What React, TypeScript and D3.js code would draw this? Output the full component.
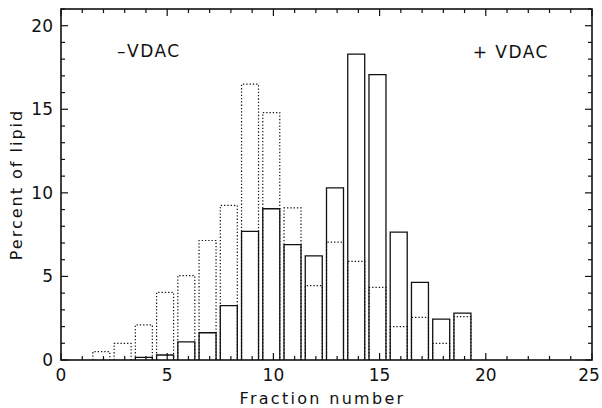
import React from "react";
import * as d3 from "d3";

const fractions = [2, 3, 4, 5, 6, 7, 8, 9, 10, 11, 12, 13, 14, 15, 16, 17, 18, 19];
const minusVDAC = [0.5, 1.0, 2.1, 4.05, 5.05, 7.15, 9.25, 16.5, 14.8, 9.1, 4.45, 7.05, 5.9, 4.35, 2.0, 2.55, 1.0, 2.6];
const plusVDAC = [0, 0, 0.16, 0.3, 1.08, 1.63, 3.25, 7.7, 9.05, 6.9, 6.23, 10.3, 18.3, 17.07, 7.65, 4.65, 2.44, 2.8];
const xTickLabels = [0, 5, 10, 15, 20, 25];
const yTickLabels = [0, 5, 10, 15, 20];

const W = 602, H = 408;
const left = 61, right = 592, top = 9, bottom = 360;
const font = "'DejaVu Sans', sans-serif";
const ink = "#111";

export default function App() {
  const x = d3.scaleLinear().domain([0, 25]).range([left, right]);
  const y = d3.scaleLinear().domain([0, 21]).range([bottom, top]);
  const bw = x(0.8) - x(0);
  const minorX = d3.range(0, 26);
  const minorY = d3.range(0, 22);

  return (
    <svg width={W} height={H} style={{ position: "absolute", left: 0, top: 0, background: "#fff" }}>
      <rect x={0} y={0} width={W} height={H} fill="#fff" />
      {fractions.map((f, i) =>
        minusVDAC[i] > 0 ? (
          <path
            key={"m" + f}
            d={`M${x(f - 0.5)},${y(0)}V${y(minusVDAC[i])}H${x(f - 0.5) + bw}V${y(0)}`}
            fill="none"
            stroke={ink}
            strokeWidth={1.2}
            strokeDasharray="1.3,2"
          />
        ) : null
      )}
      {fractions.map((f, i) =>
        plusVDAC[i] > 0 ? (
          <path
            key={"p" + f}
            d={`M${x(f - 0.5)},${y(0)}V${y(plusVDAC[i])}H${x(f - 0.5) + bw}V${y(0)}`}
            fill="none"
            stroke={ink}
            strokeWidth={1.3}
          />
        ) : null
      )}
      <rect x={left} y={top} width={right - left} height={bottom - top} fill="none" stroke={ink} strokeWidth={1.6} />
      {minorX.map((v) => {
        const len = v % 5 === 0 ? 7 : 4;
        return (
          <g key={"xt" + v}>
            <line x1={x(v)} x2={x(v)} y1={bottom} y2={bottom - len} stroke={ink} strokeWidth={1.2} />
            <line x1={x(v)} x2={x(v)} y1={top} y2={top + len} stroke={ink} strokeWidth={1.2} />
          </g>
        );
      })}
      {minorY.map((v) => {
        const len = v % 5 === 0 ? 7 : 4;
        return (
          <g key={"yt" + v}>
            <line x1={left} x2={left + len} y1={y(v)} y2={y(v)} stroke={ink} strokeWidth={1.2} />
            <line x1={right} x2={right - len} y1={y(v)} y2={y(v)} stroke={ink} strokeWidth={1.2} />
          </g>
        );
      })}
      {xTickLabels.map((v) => (
        <text key={"xl" + v} x={Math.min(x(v), 589)} y={381} textAnchor="middle" fontFamily={font} fontSize={17} fill={ink}>
          {v}
        </text>
      ))}
      {yTickLabels.map((v) => (
        <text key={"yl" + v} x={53} y={y(v) + 6} textAnchor="end" fontFamily={font} fontSize={17} fill={ink}>
          {v}
        </text>
      ))}
      <text x={(left + right) / 2 - 4} y={404} textAnchor="middle" fontFamily={font} fontSize={16} fill={ink} letterSpacing={2.3}>
        Fraction number
      </text>
      <text
        transform={`translate(22,${(top + bottom) / 2}) rotate(-90)`}
        textAnchor="middle"
        fontFamily={font}
        fontSize={16}
        fill={ink}
        letterSpacing={2}
      >
        Percent of lipid
      </text>
      <text x={117} y={57} fontFamily={font} fontSize={17} fill={ink} letterSpacing={1.5}>
        –VDAC
      </text>
      <text x={549} y={58} textAnchor="end" fontFamily={font} fontSize={17} fill={ink} letterSpacing={1.5}>
        + VDAC
      </text>
    </svg>
  );
}
